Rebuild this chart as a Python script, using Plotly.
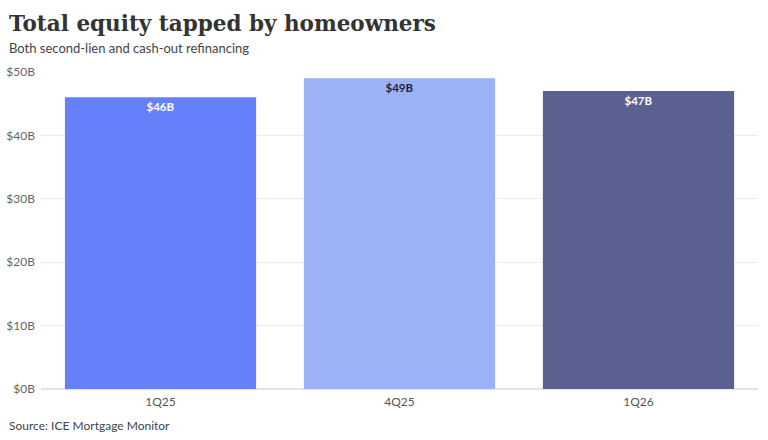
import plotly.graph_objects as go

categories = ["1Q25", "4Q25", "1Q26"]
values = [46, 49, 47]
labels = ["$46B", "$49B", "$47B"]
bar_colors = ["#6680fa", "#9db1f7", "#5a6190"]
label_colors = ["#ffffff", "#1c2340", "#ffffff"]
tick_vals = [0, 10, 20, 30, 40, 50]
tick_text = ["$0B", "$10B", "$20B", "$30B", "$40B", "$50B"]

fig = go.Figure(go.Bar(
    x=categories, y=values, text=labels,
    marker=dict(color=bar_colors, line=dict(width=0)),
    textposition="inside", insidetextanchor="end",
    textfont=dict(family="Lato", size=11.5, color=label_colors, weight="bold"),
    textangle=0, cliponaxis=False,
))

fig.update_layout(
    width=768, height=440,
    margin=dict(l=41, r=10, t=72, b=51, autoexpand=False),
    paper_bgcolor="white", plot_bgcolor="white",
    bargap=0.2, showlegend=False,
    font=dict(family="Lato", color="#555555"),
    xaxis=dict(showgrid=False, showline=False, ticks="", automargin=False,
               ticklabelstandoff=4, tickfont=dict(size=12, color="#555555")),
    yaxis=dict(range=[0, 50], tickvals=tick_vals, ticktext=tick_text, automargin=False,
               showgrid=True, gridcolor="#ececec", gridwidth=1, zeroline=True,
               zerolinecolor="#e4e4e4", tickfont=dict(size=12, color="#666666"),
               ticks="", ticklabelstandoff=5),
    uniformtext=dict(minsize=8, mode="show"),
)

fig.add_annotation(text="<b>Total equity tapped by homeowners</b>", xref="paper", yref="paper",
                   x=0, xanchor="left", xshift=-34, y=1, yanchor="bottom", yshift=34,
                   showarrow=False, font=dict(family="DejaVu Serif", size=21.5, color="#333333"))
fig.add_annotation(text="Both second-lien and cash-out refinancing", xref="paper", yref="paper",
                   x=0, xanchor="left", xshift=-34, y=1, yanchor="bottom", yshift=14,
                   showarrow=False, font=dict(family="Lato", size=13, color="#444444"))
fig.add_annotation(text="Source: ICE Mortgage Monitor", xref="paper", yref="paper",
                   x=0, xanchor="left", xshift=-34, y=0, yanchor="top", yshift=-27,
                   showarrow=False, font=dict(family="Lato", size=12, color="#444444"))

fig.write_html("out.html")
